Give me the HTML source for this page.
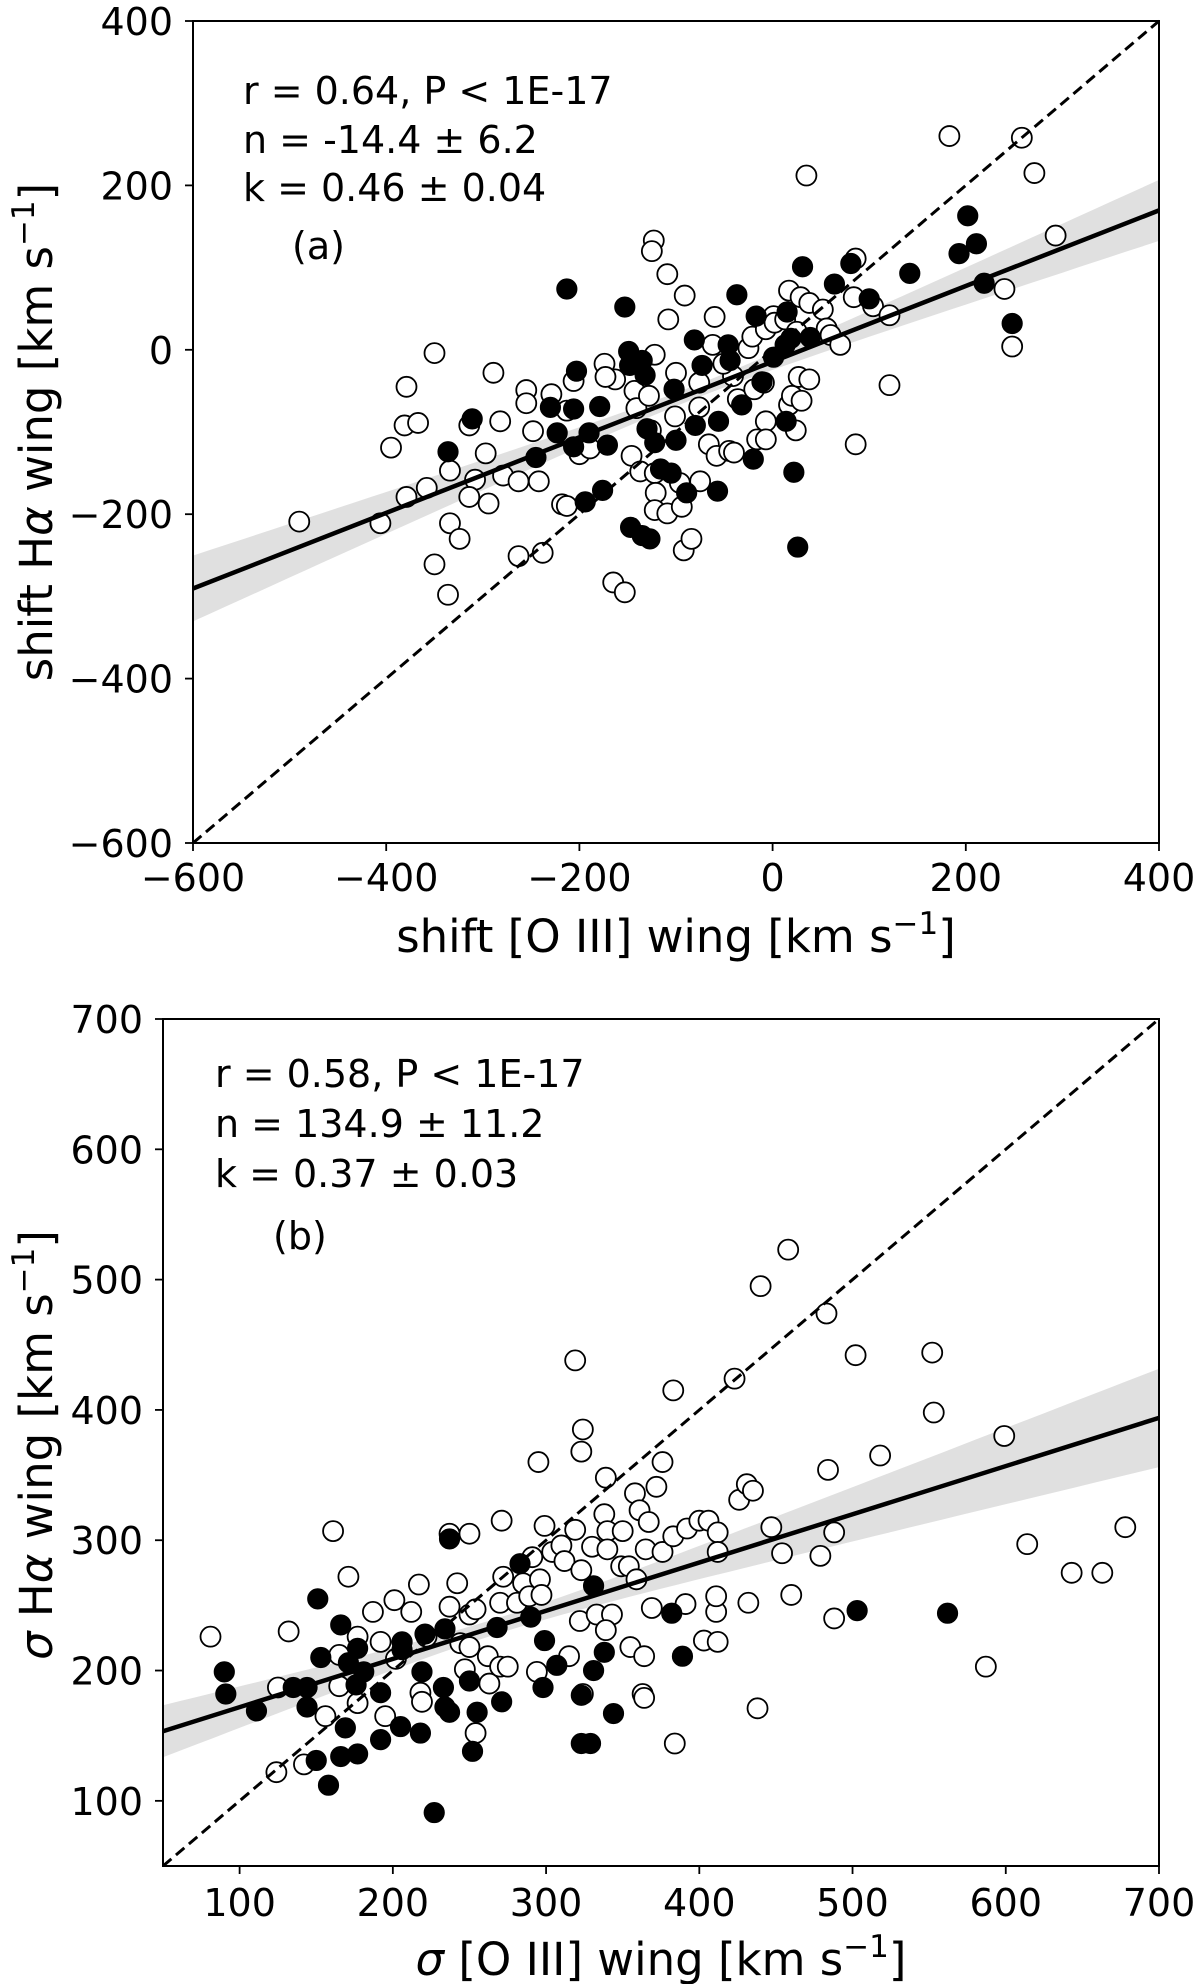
<!DOCTYPE html>
<html><head><meta charset="utf-8"><style>
html,body{margin:0;padding:0;background:#fff;}
svg{display:block;font-family:"DejaVu Sans","Liberation Sans",sans-serif;}
</style></head><body>
<svg id="fig" width="1200" height="1984" viewBox="0 0 1200 1984" xmlns="http://www.w3.org/2000/svg" style="position:absolute;left:0;top:0">
<g id="pa"></g>
<g id="pb"></g>
</svg>
<script>
// Panel (a) data
const aOpenX=[-490,-406,-395,-350,-379,-381,-367,-358,-379,-334,-334,-324,-350,-336,-314,-308,-314,-294,-297,-289,-282,-279,-263,-255,-255,-248,-242,-238,-263,-229,-213,-206,-218,-213,-200,-189,-174,-163,-165,-153,-143,-141,-146,-137,-122,-128,-126,-123,-125,-109,-108,-91,-122,-121,-122,-109,-96,-94,-92,-84,-100,-101,-76,-76,-75,-66,-60,-62,-58,-45,-41,-36,-25,-21,-19,-16,-7,-7,-7,1,2,13,17,25,17,20,24,30,27,35,29,38,38,52,56,60,70,86,84,86,104,121,121,183,258,271,293,240,248,-40,-9,-51,-173];
const aOpenY=[-209,-211,-119,-4,-45,-92,-89,-168,-179,-147,-211,-230,-261,-298,-92,-158,-179,-187,-126,-28,-87,-153,-160,-49,-65,-99,-160,-247,-251,-54,-74,-38,-188,-190,-127,-120,-17,-36,-283,-295,-50,-71,-129,-148,-6,-56,-98,133,120,92,37,66,-150,-174,-195,-199,-162,-191,-244,-230,-28,-81,-40,-70,-160,-115,40,6,-129,-123,-32,-60,2,16,-48,-109,-87,-109,25,41,33,37,72,22,-67,-56,-98,-62,-33,212,64,57,-36,49,26,18,6,111,64,-115,53,42,-43,260,258,215,139,74,4,-125,-40,-17,-33];
const aFillX=[-213,-153,-37,31,64,81,100,142,193,202,211,219,248,-336,-311,-245,-230,-223,-206,-206,-203,-194,-190,-179,-176,-171,-149,-148,-135,-132,-147,-135,-127,-130,-122,-116,-105,-102,-100,-89,-81,-80,-73,-57,-56,-46,-44,-32,-20,-17,-11,1,13,15,19,22,14,26,39];
const aFillY=[74,52,67,101,80,105,62,93,117,163,129,81,32,-124,-84,-131,-70,-101,-72,-118,-26,-185,-101,-69,-171,-116,-2,-19,-13,-31,-216,-226,-230,-96,-113,-145,-150,-48,-110,-174,12,-92,-19,-172,-87,6,-13,-67,-133,41,-39,-9,6,46,14,-149,-87,-240,15];
const aTicks=[-600,-400,-200,0,200,400];
const aFit=[-14.4,0.46];
// Panel (b) data
const bOpenX=[81,132,125,124,142,156,161,165,165,171,177,177,187,192,195,201,202,212,217,218,219,222,237,237,250,242,244,247,250,254,250,254,263,262,270,271,272,270,275,281,285,289,291,295,294,296,297,299,304,310,312,315,319,319,322,323,324,323,324,330,333,338,339,340,340,343,339,350,349,354,358,359,355,361,364,363,364,365,367,369,372,376,376,383,383,384,391,392,400,403,406,411,412,412,411,412,423,426,431,432,435,438,440,447,454,458,460,479,483,484,488,488,502,518,552,553,587,599,614,643,663,678];
const bOpenY=[226,230,187,122,128,165,307,212,188,272,226,175,245,222,165,254,209,245,266,183,176,226,249,305,305,267,221,201,218,152,243,247,190,211,203,315,272,252,203,252,267,257,287,360,199,270,258,311,291,296,284,211,438,308,238,368,385,277,182,295,243,320,348,307,293,243,231,307,280,280,336,270,218,323,211,182,179,293,314,248,341,360,291,303,415,144,251,309,315,223,315,245,306,222,257,291,424,331,343,252,338,171,495,310,290,523,258,288,474,354,240,306,442,365,444,398,203,380,297,275,275,310];
const bFillX=[90,91,111,135,144,144,151,153,150,158,166,169,166,171,177,176,177,181,192,192,205,206,206,218,219,221,234,233,234,237,227,237,250,255,252,268,271,283,290,299,298,307,323,323,329,331,331,338,344,382,389,503,562];
const bFillY=[199,182,169,187,172,187,255,210,131,112,235,156,134,206,217,189,136,199,183,147,157,216,222,152,199,228,232,187,172,168,91,301,192,168,138,233,176,282,241,223,187,204,181,144,144,200,265,214,167,244,211,246,244];
const bTicks=[100,200,300,400,500,600,700];
const bFit=[134.9,0.37];
</script>
<script>
const NS="http://www.w3.org/2000/svg";
function mk(parent,tag,attrs,text){const e=document.createElementNS(NS,tag);for(const k in attrs)e.setAttribute(k,attrs[k]);if(text!==undefined)e.textContent=text;parent.appendChild(e);return e;}
function panel(g,cfg){
  const {L,R,T,B,x0,x1,y0,y1}=cfg;
  const sx=v=>L+(v-x0)/(x1-x0)*(R-L);
  const sy=v=>B-(v-y0)/(y1-y0)*(B-T);
  let pts=[];const N=60;
  for(let i=0;i<=N;i++){const x=x0+(x1-x0)*i/N;const hw=Math.sqrt(cfg.ba*cfg.ba+cfg.bb*cfg.bb*(x-cfg.bx)*(x-cfg.bx));pts.push(sx(x).toFixed(1)+","+sy(cfg.fit[0]+cfg.fit[1]*x+hw).toFixed(1));}
  for(let i=N;i>=0;i--){const x=x0+(x1-x0)*i/N;const hw=Math.sqrt(cfg.ba*cfg.ba+cfg.bb*cfg.bb*(x-cfg.bx)*(x-cfg.bx));pts.push(sx(x).toFixed(1)+","+sy(cfg.fit[0]+cfg.fit[1]*x-hw).toFixed(1));}
  const band=mk(g,"polygon",{points:pts.join(" "),fill:"#e0e0e0",stroke:"none"});
  
  
  for(let i=0;i<cfg.ox.length;i++){
    const c=mk(g,"circle",{cx:sx(cfg.ox[i]),cy:sy(cfg.oy[i]),r:10,fill:"#fff",stroke:"#000","stroke-width":1.8});
    
    
  }
  for(let i=0;i<cfg.fx.length;i++){
    const c=mk(g,"circle",{cx:sx(cfg.fx[i]),cy:sy(cfg.fy[i]),r:10,fill:"#000",stroke:"#000","stroke-width":1.2});
    
    
  }
  const d=mk(g,"line",{x1:sx(Math.max(x0,y0)),y1:sy(Math.max(x0,y0)),x2:sx(Math.min(x1,y1)),y2:sy(Math.min(x1,y1)),stroke:"#000","stroke-width":3,"stroke-dasharray":"11,6"});
  
  
  const f=mk(g,"line",{x1:sx(x0),y1:sy(cfg.fit[0]+cfg.fit[1]*x0),x2:sx(x1),y2:sy(cfg.fit[0]+cfg.fit[1]*x1),stroke:"#000","stroke-width":4.5});
  
  
  const fr=mk(g,"rect",{x:L,y:T,width:R-L,height:B-T,fill:"none",stroke:"#000","stroke-width":2});
  
  
  for(const t of cfg.xt){
    const tk=mk(g,"line",{x1:sx(t),y1:B,x2:sx(t),y2:B+8,stroke:"#000","stroke-width":1.8});
    
    
    const tl=mk(g,"text",{x:sx(t),y:cfg.xtY,"font-size":38,"text-anchor":"middle"},String(t).replace("-","\u2212"));
    
    
  }
  for(const t of cfg.yt){
    const tk=mk(g,"line",{x1:L-8,y1:sy(t),x2:L,y2:sy(t),stroke:"#000","stroke-width":1.8});
    
    
    const tl=mk(g,"text",{x:L-20,y:sy(t)+14,"font-size":38,"text-anchor":"end"},String(t).replace("-","\u2212"));
    
    
  }
  return {sx,sy};
}
panel(document.getElementById('pa'),{L:193,R:1159,T:21,B:843,x0:-600,x1:400,y0:-600,y1:400,ox:aOpenX,oy:aOpenY,fx:aFillX,fy:aFillY,xt:aTicks,yt:aTicks,fit:aFit,ba:8,bb:0.0754,bx:-80,xtY:891});
panel(document.getElementById('pb'),{L:163,R:1159,T:1019,B:1866,x0:50,x1:700,y0:50,y1:700,ox:bOpenX,oy:bOpenY,fx:bFillX,fy:bFillY,xt:bTicks,yt:bTicks,fit:bFit,ba:6,bb:0.0867,bx:270,xtY:1916});
</script>
<svg width="1200" height="1984" style="position:absolute;left:0;top:0" font-family="DejaVu Sans, Liberation Sans, sans-serif" xml:space="preserve">
<g font-size="38" fill="#000">
<text x="243" y="104">r = 0.64, P &lt; 1E-17</text>
<text x="243" y="153">n = -14.4 ± 6.2</text>
<text x="243" y="201">k = 0.46 ± 0.04</text>
<text x="292" y="259">(a)</text>
<text x="215" y="1087">r = 0.58, P &lt; 1E-17</text>
<text x="215" y="1137">n = 134.9 ± 11.2</text>
<text x="215" y="1187">k = 0.37 ± 0.03</text>
<text x="273" y="1249">(b)</text>
</g>
<g font-size="45" fill="#000">
<text x="676" y="952" text-anchor="middle">shift [O III] wing [km s<tspan font-size="31" dy="-18">−1</tspan><tspan dy="18">]</tspan></text>
<text transform="translate(52,432) rotate(-90)" text-anchor="middle">shift H<tspan font-style="italic">α</tspan>  wing [km s<tspan font-size="31" dy="-18">−1</tspan><tspan dy="18">]</tspan></text>
<text x="661" y="1975" text-anchor="middle"><tspan font-style="italic">σ</tspan> [O III] wing [km s<tspan font-size="31" dy="-18">−1</tspan><tspan dy="18">]</tspan></text>
<text transform="translate(52,1445) rotate(-90)" text-anchor="middle"><tspan font-style="italic">σ</tspan> H<tspan font-style="italic">α</tspan>  wing [km s<tspan font-size="31" dy="-18">−1</tspan><tspan dy="18">]</tspan></text>
</g>
</svg>
</body></html>
